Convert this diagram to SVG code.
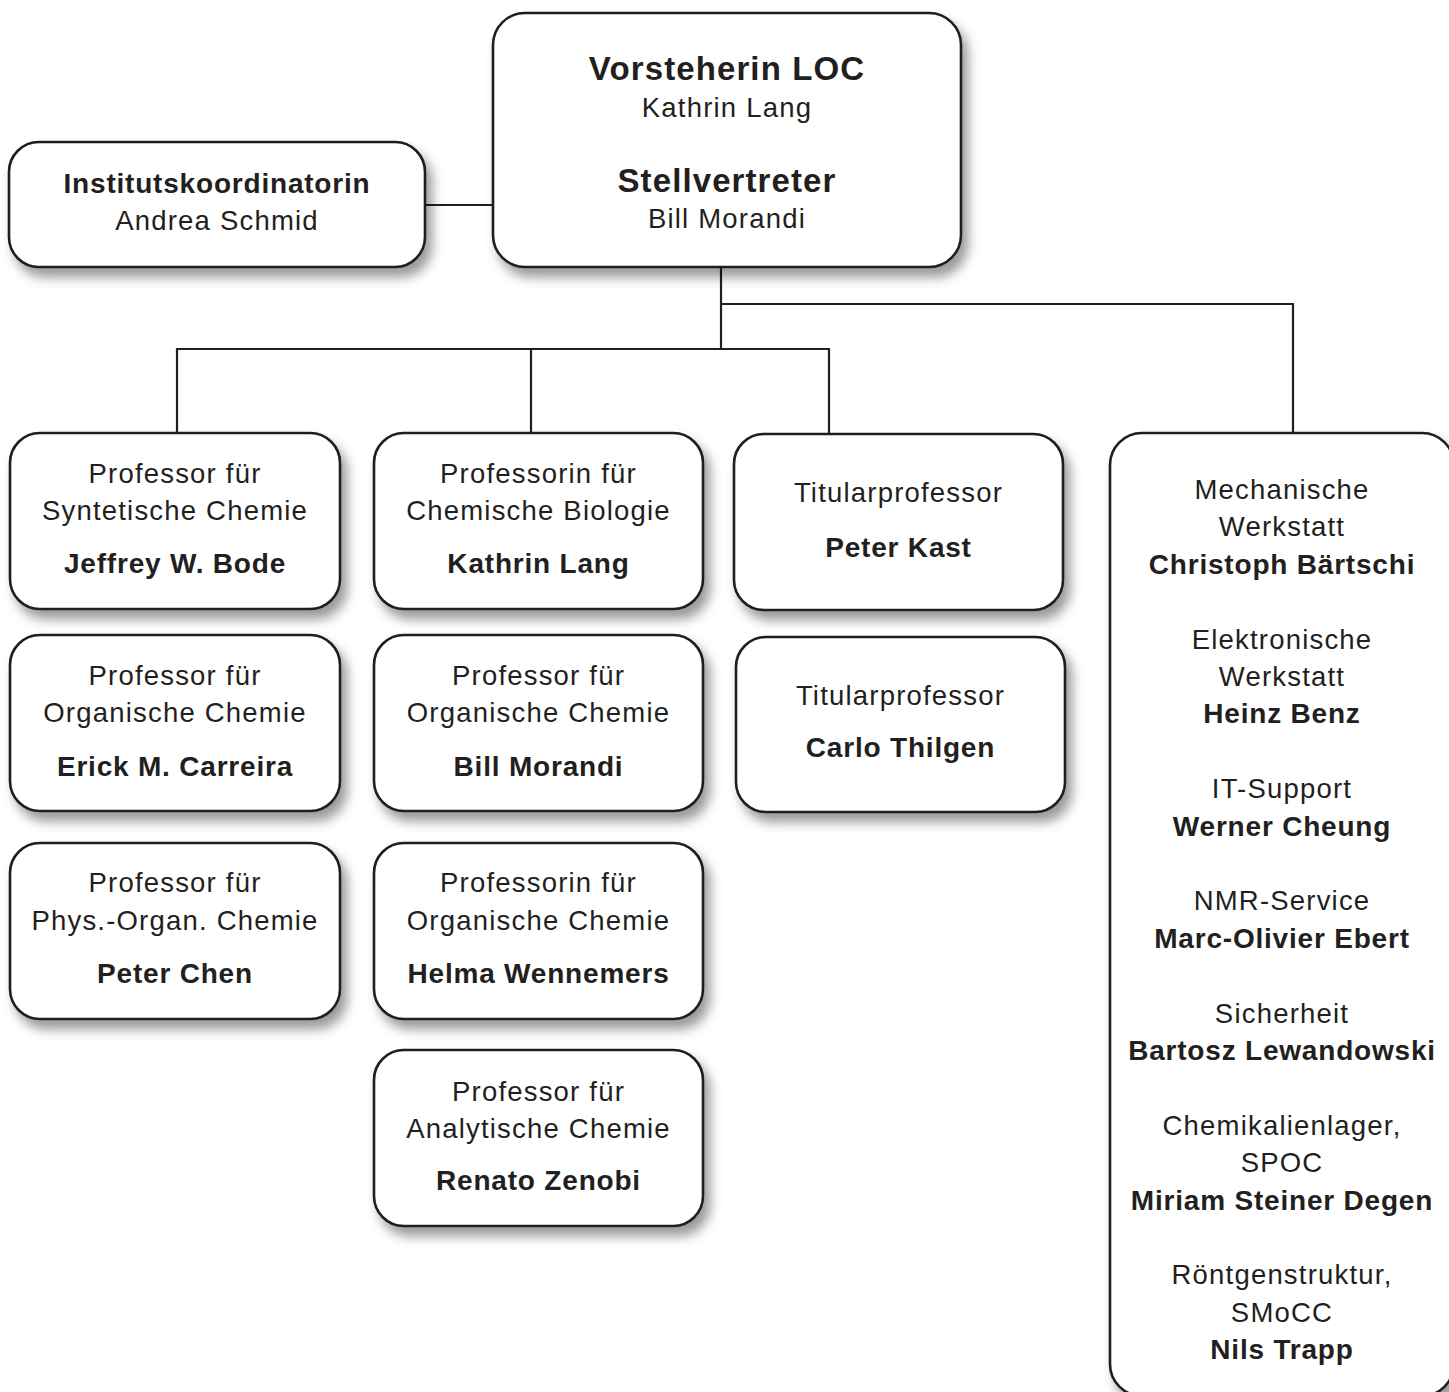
<svg xmlns="http://www.w3.org/2000/svg" width="1449" height="1392" viewBox="0 0 1449 1392">
<defs>
<filter id="sh" x="-10%" y="-10%" width="130%" height="140%">
<feDropShadow dx="6" dy="9" stdDeviation="6" flood-color="#000" flood-opacity="0.4"/>
</filter>
<style>
.box{fill:#fff;stroke:#231f20;stroke-width:2.6}
.con{fill:none;stroke:#231f20;stroke-width:2.2}
text{font-family:"Liberation Sans",Arial,sans-serif;fill:#231f20;text-anchor:middle}
.r{font-size:27.5px;letter-spacing:1.2px}
.b{font-size:28px;font-weight:bold;letter-spacing:0.8px}
.t{font-size:33px;font-weight:bold;letter-spacing:1.1px}
</style>
</defs>
<rect width="1449" height="1392" fill="#fff"/>
<g id="connectors">
<line class="con" x1="425" y1="205" x2="493" y2="205"/>
<polyline class="con" points="721,267 721,349"/>
<polyline class="con" points="721,304 1293,304 1293,433"/>
<polyline class="con" points="177,433 177,349 829,349 829,433"/>
<line class="con" x1="531" y1="349" x2="531" y2="433"/>
</g>
<g id="n-institut">
<rect class="box" filter="url(#sh)" x="9" y="142" width="416" height="125" rx="30"/>
<text class="b" x="217" y="193">Institutskoordinatorin</text>
<text class="r" x="217" y="230">Andrea Schmid</text>
</g>
<g id="n-vorsteherin">
<rect class="box" filter="url(#sh)" x="493" y="13" width="468" height="254" rx="32"/>
<text class="t" x="727" y="80">Vorsteherin LOC</text>
<text class="r" x="727" y="117">Kathrin Lang</text>
<text class="t" x="727" y="192">Stellvertreter</text>
<text class="r" x="727" y="228">Bill Morandi</text>
</g>
<g id="n-bode">
<rect class="box" filter="url(#sh)" x="10" y="433" width="330" height="176" rx="30"/>
<text class="r" x="175" y="483">Professor für</text>
<text class="r" x="175" y="520">Syntetische Chemie</text>
<text class="b" x="175" y="573">Jeffrey W. Bode</text>
</g>
<g id="n-carreira">
<rect class="box" filter="url(#sh)" x="10" y="635" width="330" height="176" rx="30"/>
<text class="r" x="175" y="685">Professor für</text>
<text class="r" x="175" y="722">Organische Chemie</text>
<text class="b" x="175" y="776">Erick M. Carreira</text>
</g>
<g id="n-chen">
<rect class="box" filter="url(#sh)" x="10" y="843" width="330" height="176" rx="30"/>
<text class="r" x="175" y="892">Professor für</text>
<text class="r" x="175" y="930">Phys.-Organ. Chemie</text>
<text class="b" x="175" y="983">Peter Chen</text>
</g>
<g id="n-lang">
<rect class="box" filter="url(#sh)" x="374" y="433" width="329" height="176" rx="30"/>
<text class="r" x="538.5" y="483">Professorin für</text>
<text class="r" x="538.5" y="520">Chemische Biologie</text>
<text class="b" x="538.5" y="573">Kathrin Lang</text>
</g>
<g id="n-morandi">
<rect class="box" filter="url(#sh)" x="374" y="635" width="329" height="176" rx="30"/>
<text class="r" x="538.5" y="685">Professor für</text>
<text class="r" x="538.5" y="722">Organische Chemie</text>
<text class="b" x="538.5" y="776">Bill Morandi</text>
</g>
<g id="n-wennemers">
<rect class="box" filter="url(#sh)" x="374" y="843" width="329" height="176" rx="30"/>
<text class="r" x="538.5" y="892">Professorin für</text>
<text class="r" x="538.5" y="930">Organische Chemie</text>
<text class="b" x="538.5" y="983">Helma Wennemers</text>
</g>
<g id="n-zenobi">
<rect class="box" filter="url(#sh)" x="374" y="1050" width="329" height="176" rx="30"/>
<text class="r" x="538.5" y="1101">Professor für</text>
<text class="r" x="538.5" y="1138">Analytische Chemie</text>
<text class="b" x="538.5" y="1190">Renato Zenobi</text>
</g>
<g id="n-kast">
<rect class="box" filter="url(#sh)" x="734" y="434" width="329" height="176" rx="30"/>
<text class="r" x="898.5" y="502">Titularprofessor</text>
<text class="b" x="898.5" y="557">Peter Kast</text>
</g>
<g id="n-thilgen">
<rect class="box" filter="url(#sh)" x="736" y="637" width="329" height="175" rx="30"/>
<text class="r" x="900.5" y="705">Titularprofessor</text>
<text class="b" x="900.5" y="757">Carlo Thilgen</text>
</g>
<g id="n-services">
<rect class="box" filter="url(#sh)" x="1110" y="433" width="344" height="963" rx="32"/>
<text class="r" x="1282" y="499">Mechanische</text>
<text class="r" x="1282" y="536.4">Werkstatt</text>
<text class="b" x="1282" y="573.8">Christoph Bärtschi</text>
<text class="r" x="1282" y="648.6">Elektronische</text>
<text class="r" x="1282" y="686">Werkstatt</text>
<text class="b" x="1282" y="723.4">Heinz Benz</text>
<text class="r" x="1282" y="798.2">IT-Support</text>
<text class="b" x="1282" y="835.6">Werner Cheung</text>
<text class="r" x="1282" y="910.4">NMR-Service</text>
<text class="b" x="1282" y="947.8">Marc-Olivier Ebert</text>
<text class="r" x="1282" y="1022.6">Sicherheit</text>
<text class="b" x="1282" y="1060">Bartosz Lewandowski</text>
<text class="r" x="1282" y="1134.8">Chemikalienlager,</text>
<text class="r" x="1282" y="1172.2">SPOC</text>
<text class="b" x="1282" y="1209.6">Miriam Steiner Degen</text>
<text class="r" x="1282" y="1284.4">Röntgenstruktur,</text>
<text class="r" x="1282" y="1321.8">SMoCC</text>
<text class="b" x="1282" y="1359.2">Nils Trapp</text>
</g>
</svg>
